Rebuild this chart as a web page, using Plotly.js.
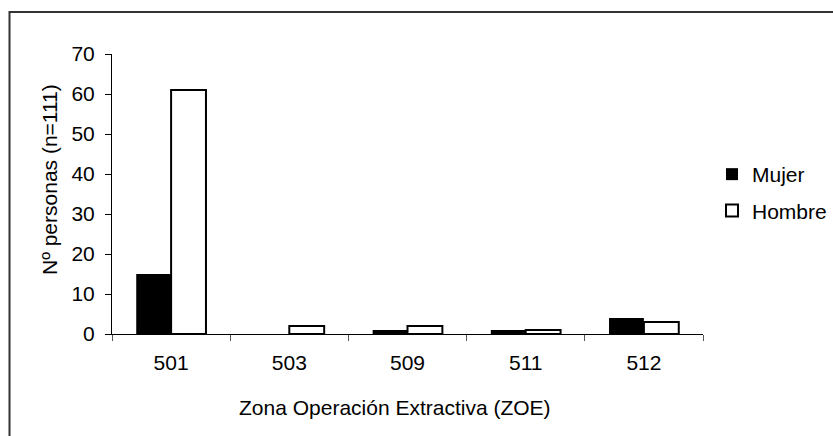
<!DOCTYPE html>
<html>
<head>
<meta charset="utf-8">
<script src="https://cdn.plot.ly/plotly-3.0.1.min.js"></script>
<style>
html,body{margin:0;padding:0;background:#fff;}
#chart{width:833px;height:436px;}
</style>
</head>
<body>
<div id="chart"></div>
<script>
const categories = ["501", "503", "509", "511", "512"];
const mujer = [15, 0, 1, 1, 4];
const hombre = [61, 2, 2, 1, 3];
const seriesNames = ["Mujer", "Hombre"];
const yTitle = "Nº personas (n=111)";
const xTitle = "Zona Operación Extractiva (ZOE)";

const fontFam = "Liberation Sans, Arial, sans-serif";
const FS = 21;

const traces = [
  {
    type: "bar", name: seriesNames[0], x: categories, y: mujer,
    legendgroup: "a",
    marker: {color: "#000000", line: {color: "#000000", width: 0}},
    hoverinfo: "none"
  },
  {
    type: "bar", name: seriesNames[1], x: categories, y: hombre,
    legendgroup: "b",
    marker: {color: "#ffffff", line: {color: "#000000", width: 2}},
    hoverinfo: "none"
  }
];

const L = 112, R = 703, T = 54, B = 334;
const W = 833, H = 436;
function px2x(p){ return (p - L) / (R - L); }
function py2y(p){ return (B - p) / (B - T); }

const layout = {
  width: W, height: H,
  margin: {l: L, r: W - R, t: T, b: H - B, pad: 0, autoexpand: false},
  paper_bgcolor: "#ffffff",
  plot_bgcolor: "#ffffff",
  font: {family: fontFam, size: FS, color: "#000000"},
  barmode: "group",
  bargap: 0.41,
  bargroupgap: 0,
  showlegend: true,
  legend: {
    x: px2x(712), y: py2y(154), xanchor: "left", yanchor: "top",
    font: {family: fontFam, size: FS, color: "#000000"},
    tracegroupgap: 6,
    bgcolor: "rgba(0,0,0,0)",
    itemwidth: 30
  },
  xaxis: {
    type: "category",
    showline: true, linecolor: "#000000", linewidth: 1,
    ticks: "outside", tickson: "boundaries", ticklen: 6, tickcolor: "#555555", tickwidth: 1,
    showgrid: false, zeroline: false,
    tickfont: {family: fontFam, size: FS, color: "#000000"},
    ticklabelstandoff: 10
  },
  yaxis: {
    range: [0, 70], dtick: 10, tick0: 0,
    showline: true, linecolor: "#000000", linewidth: 1,
    ticks: "outside", ticklen: 6, tickcolor: "#000000", tickwidth: 1,
    showgrid: false, zeroline: false,
    tickfont: {family: fontFam, size: FS, color: "#000000"},
    ticklabelstandoff: 6
  },
  annotations: [
    {
      text: yTitle, xref: "paper", yref: "paper",
      x: px2x(49), y: py2y(180), xanchor: "center", yanchor: "middle",
      textangle: -90, showarrow: false,
      font: {family: fontFam, size: FS, color: "#000000"}
    },
    {
      text: xTitle, xref: "paper", yref: "paper",
      x: px2x(395), y: py2y(407), xanchor: "center", yanchor: "middle",
      showarrow: false,
      font: {family: fontFam, size: FS, color: "#000000"}
    }
  ],
  shapes: [
    {
      type: "rect", xref: "paper", yref: "paper",
      x0: px2x(9.5), x1: px2x(900), y0: py2y(500), y1: py2y(12),
      line: {color: "#333333", width: 2}, fillcolor: "rgba(0,0,0,0)", layer: "below"
    }
  ]
};

Plotly.newPlot("chart", traces, layout, {staticPlot: true, displayModeBar: false});
</script>
</body>
</html>
